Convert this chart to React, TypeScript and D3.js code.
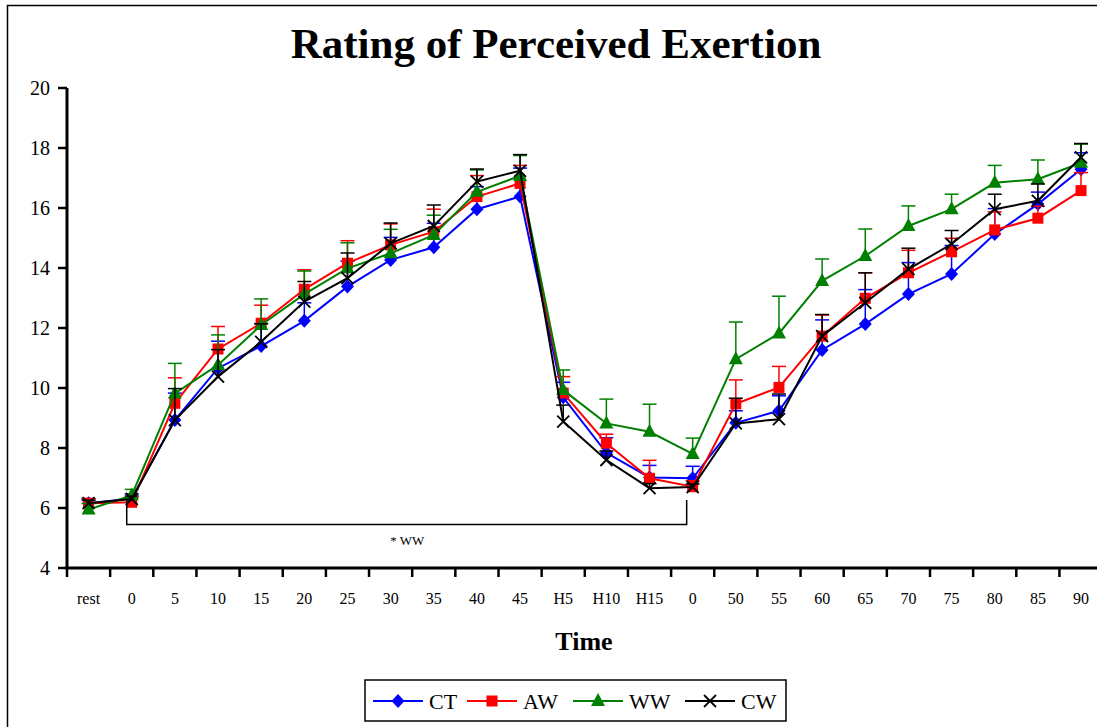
import React from "react";
import * as d3 from "d3";

const categories = ["rest","0","5","10","15","20","25","30","35","40","45","H5","H10","H15","0","50","55","60","65","70","75","80","85","90"];

const ctValues = [6.16,6.32,8.93,10.66,11.4,12.24,13.38,14.27,14.69,15.96,16.38,9.69,7.84,7.02,6.99,8.84,9.24,11.27,12.13,13.13,13.8,15.13,16.13,17.29];
const awValues = [6.16,6.19,9.49,11.3,12.16,13.29,14.16,14.77,15.21,16.38,16.82,9.83,8.16,6.99,6.71,9.47,10.02,11.73,12.99,13.84,14.54,15.27,15.66,16.58];
const wwValues = [5.95,6.42,9.82,10.77,12.1,13.13,13.99,14.49,15.1,16.54,17.07,9.93,8.82,8.54,7.8,10.96,11.82,13.57,14.4,15.4,15.96,16.84,16.96,17.51];
const cwValues = [6.16,6.3,8.93,10.38,11.54,12.88,13.66,14.82,15.4,16.88,17.24,8.88,7.6,6.66,6.7,8.82,8.96,11.73,12.84,13.96,14.8,15.96,16.24,17.69];

const ctErr = [0.15,0.15,0.9,0.9,0.75,0.6,0.85,0.75,0.8,0.75,0.95,0.5,0.5,0.4,0.4,0.4,0.5,1.0,1.15,1.05,0.95,0.85,0.4,0.55];
const awErr = [0.15,0.15,0.85,0.75,0.6,0.65,0.75,0.7,0.75,0.7,0.6,0.55,0.3,0.6,0.2,0.8,0.7,0.7,0.85,0.75,0.45,0.6,0.4,0.6];
const wwErr = [0.2,0.2,1.0,1.0,0.87,0.77,0.85,0.8,0.66,0.73,0.68,0.67,0.81,0.92,0.53,1.24,1.24,0.73,0.9,0.67,0.5,0.58,0.64,0.62];
const cwErr = [0.1,0.1,1.05,0.9,0.6,0.67,0.84,0.68,0.7,0.42,0.54,0.55,0.3,0.15,0.1,0.84,0.84,0.72,1.0,0.7,0.45,0.5,0.56,0.46];

const yTicks = [4,6,8,10,12,14,16,18,20];
const seriesNames = ["CT","AW","WW","CW"];
const seriesColors = ["#0000ff","#ff0000","#008000","#000000"];
const seriesMarkers = ["diamond","square","triangle","x"];

const bracketStart = 1;
const bracketEnd = 14;
const bracketLow = 5.45;
const bracketHigh = 6.27;
const bracketLabel = "*  WW";

const FONT = "'Liberation Serif', 'Times New Roman', serif";

function Marker({ type, x, y, color }: { type: string; x: number; y: number; color: string }) {
  if (type === "diamond") {
    return <path d={`M${x},${y - 7}L${x + 6.5},${y}L${x},${y + 7}L${x - 6.5},${y}Z`} fill={color} />;
  }
  if (type === "square") {
    return <rect x={x - 5.5} y={y - 5.5} width={11} height={11} fill={color} />;
  }
  if (type === "triangle") {
    return <path d={`M${x},${y - 8}L${x + 7},${y + 5}L${x - 7},${y + 5}Z`} fill={color} />;
  }
  return (
    <g stroke={color} strokeWidth={1.8}>
      <line x1={x - 6} y1={y - 6} x2={x + 6} y2={y + 6} />
      <line x1={x - 6} y1={y + 6} x2={x + 6} y2={y - 6} />
    </g>
  );
}

export default function App() {
  const width = 1097;
  const height = 727;
  const left = 67;
  const step = 43.15;
  const idx = categories.map((_, i) => i);
  const x = d3.scaleBand<number>().domain(idx).range([left, left + step * categories.length]).padding(0);
  const cx = (i: number) => (x(i) as number) + x.bandwidth() / 2;
  const y = d3.scaleLinear().domain([4, 20]).range([568, 88]);
  const allValues = [ctValues, awValues, wwValues, cwValues];
  const allErr = [ctErr, awErr, wwErr, cwErr];
  const line = d3.line<number>().x((_, i) => cx(i)).y((v) => y(v));

  const legendX = [373, 467, 573, 685];
  const axisRight = width;

  return (
    <svg width={width} height={height} style={{ position: "absolute", left: 0, top: 0, background: "#fff" }} fontFamily={FONT}>
      <rect x={0} y={0} width={width} height={height} fill="#fff" />
      <rect x={7.5} y={5.5} width={width + 20} height={height + 20} fill="none" stroke="#000" strokeWidth={1.5} />
      <text x={556} y={58} textAnchor="middle" fontSize={43} fontWeight="bold">Rating of Perceived Exertion</text>

      {/* series */}
      {allValues.map((vals, s) => (
        <g key={seriesNames[s]}>
          {vals.map((v, i) => (
            <g key={i} stroke={seriesColors[s]} strokeWidth={1.5}>
              <line x1={cx(i)} x2={cx(i)} y1={y(v)} y2={y(v + allErr[s][i])} />
              <line x1={cx(i) - 7} x2={cx(i) + 7} y1={y(v + allErr[s][i])} y2={y(v + allErr[s][i])} />
            </g>
          ))}
          <path d={line(vals) || ""} fill="none" stroke={seriesColors[s]} strokeWidth={2} />
          {vals.map((v, i) => (
            <Marker key={i} type={seriesMarkers[s]} x={cx(i)} y={y(v)} color={seriesColors[s]} />
          ))}
        </g>
      ))}

      {/* bracket */}
      <path
        d={`M${cx(bracketStart) - 5},${y(bracketHigh)}V${y(bracketLow)}H${cx(bracketEnd) - 6}V${y(bracketHigh)}`}
        fill="none"
        stroke="#000"
        strokeWidth={1.5}
      />
      <text x={(cx(bracketStart) + cx(bracketEnd)) / 2 - 5} y={y(bracketLow) + 20} textAnchor="middle" fontSize={13}>{bracketLabel}</text>

      {/* axes */}
      <line x1={left} x2={left} y1={y(20)} y2={y(4)} stroke="#000" strokeWidth={3} />
      <line x1={left - 1.5} x2={axisRight} y1={y(4)} y2={y(4)} stroke="#000" strokeWidth={3} />
      {yTicks.map((t) => (
        <g key={t}>
          <line x1={left - 9} x2={left} y1={y(t)} y2={y(t)} stroke="#000" strokeWidth={2.5} />
          <text x={50} y={y(t)} dy="0.35em" textAnchor="end" fontSize={20}>{t}</text>
        </g>
      ))}
      {idx.map((i) => (
        <g key={i}>
          <line x1={x(i) as number} x2={x(i) as number} y1={y(4)} y2={y(4) + 9} stroke="#000" strokeWidth={2.5} />
          <text x={cx(i)} y={604} textAnchor="middle" fontSize={16}>{categories[i]}</text>
        </g>
      ))}
      <text x={584} y={650} textAnchor="middle" fontSize={26} fontWeight="bold">Time</text>

      {/* legend */}
      <rect x={365} y={680} width={421} height={41} fill="#fff" stroke="#000" strokeWidth={1.5} />
      {seriesNames.map((n, s) => (
        <g key={n}>
          <line x1={legendX[s]} x2={legendX[s] + 50} y1={701} y2={701} stroke={seriesColors[s]} strokeWidth={2} />
          <Marker type={seriesMarkers[s]} x={legendX[s] + 25} y={701} color={seriesColors[s]} />
          <text x={legendX[s] + 56} y={709} fontSize={22}>{n}</text>
        </g>
      ))}
    </svg>
  );
}
